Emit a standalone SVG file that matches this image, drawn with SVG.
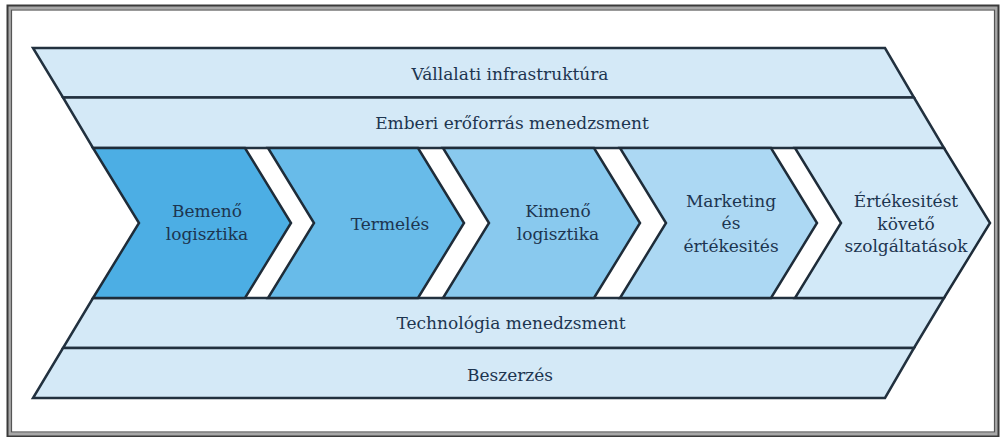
<svg xmlns="http://www.w3.org/2000/svg" width="1002" height="437" viewBox="0 0 1002 437">
<style>
.band{fill:#d4e9f7;stroke:#22313f;stroke-width:2.5;stroke-linejoin:miter}
.seg{stroke:#1e2c39;stroke-width:2.5;stroke-linejoin:miter}
.t{font-family:'DejaVu Serif',serif;font-size:17px;fill:#1d3550;text-anchor:middle}
</style>
<rect x="0" y="0" width="1002" height="437" fill="#ffffff"/>
<g id="frame" fill="none">
<rect x="9" y="7.5" width="988" height="427" stroke="#a8a8a8" stroke-width="4"/>
<rect x="7.5" y="5.5" width="991" height="431" stroke="#3a3a3a" stroke-width="2"/>
<rect x="11.5" y="10" width="983" height="422" stroke="#555555" stroke-width="1.2"/>
</g>
<g id="band-infra">
<polygon class="band" points="33,48 885,48 914,97.5 63,97.5"/>
<text class="t" x="510" y="80">Vállalati infrastruktúra</text>
</g>
<g id="band-hr">
<polygon class="band" points="63,97.5 914,97.5 944,148 93,148"/>
<text class="t" x="512" y="129">Emberi erőforrás menedzsment</text>
</g>
<g id="band-tech">
<polygon class="band" points="93,298 944,298 914,348 63,348"/>
<text class="t" x="511" y="329">Technológia menedzsment</text>
</g>
<g id="band-proc">
<polygon class="band" points="63,348 914,348 885,398 33,398"/>
<text class="t" x="510" y="381">Beszerzés</text>
</g>
<g id="seg-inbound">
<polygon class="seg" fill="#4caee4" points="93,148 245,148 291,223 245,298 93,298 139,223"/>
<text class="t" x="207" y="217">Bemenő</text>
<text class="t" x="207" y="240">logisztika</text>
</g>
<g id="seg-operations">
<polygon class="seg" fill="#68bbe9" points="268,148 418,148 464,223 418,298 268,298 314,223"/>
<text class="t" x="390" y="230">Termelés</text>
</g>
<g id="seg-outbound">
<polygon class="seg" fill="#89c9ee" points="443,148 594,148 640,223 594,298 443,298 489,223"/>
<text class="t" x="558" y="217">Kimenő</text>
<text class="t" x="558" y="240">logisztika</text>
</g>
<g id="seg-marketing">
<polygon class="seg" fill="#acd8f3" points="620,148 771,148 817,223 771,298 620,298 666,223"/>
<text class="t" x="731" y="207">Marketing</text>
<text class="t" x="731" y="229">és</text>
<text class="t" x="731" y="252">értékesités</text>
</g>
<g id="seg-service">
<polygon class="seg" fill="#d2e9f8" points="795,148 944,148 990,223 944,298 795,298 841,223"/>
<text class="t" x="906" y="207">Értékesitést</text>
<text class="t" x="906" y="230">követő</text>
<text class="t" x="906" y="252">szolgáltatások</text>
</g>
<g id="connectors"/>
</svg>
